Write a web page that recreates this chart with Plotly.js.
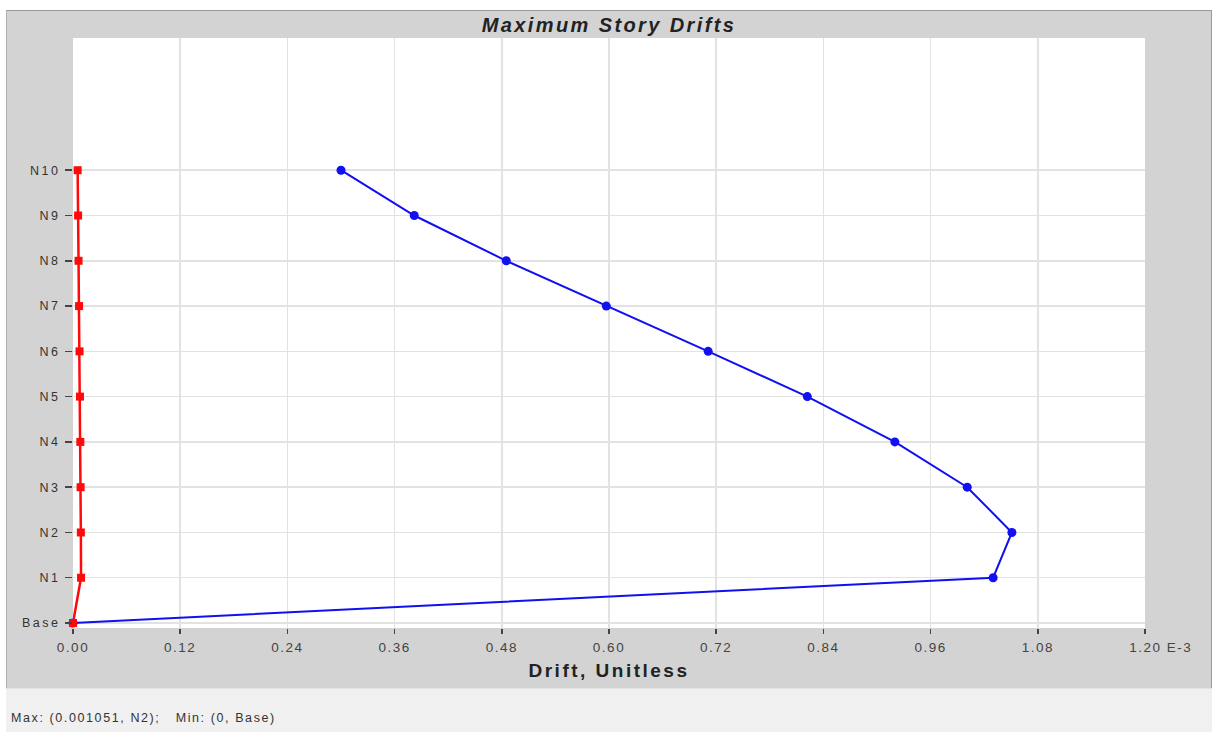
<!DOCTYPE html>
<html>
<head>
<meta charset="utf-8">
<script src="https://cdn.plot.ly/plotly-3.0.1.min.js"></script>
<style>
    body { margin: 0; background: #ffffff; width: 1216px; height: 732px; position: relative; overflow: hidden; }
    #frame { position: absolute; left: 6px; top: 10px; width: 1204px; height: 677px; background: #d3d3d3;
             border-top: 1px solid #9a9a9a; border-left: 1px solid #b0b0b0; border-right: 1px solid #9a9a9a; }
    #drifts { position: absolute; left: 0; top: 0; width: 1204px; height: 677px; }
    #status { position: absolute; left: 6px; top: 688px; width: 1206px; height: 44px; background: #f0f0f0;
              border-top: 1px solid #e2e2e2; font-family: 'Liberation Sans', Arial, sans-serif; font-size: 12.5px;
              letter-spacing: 1.6px; color: #333; }
    #status span { position: absolute; left: 5px; top: 22px; white-space: pre; }
    /* the original picture is stretched sideways, so widen the lettering */
    #drifts .gtitle { letter-spacing: 2.4px; }
    #drifts .xtitle { letter-spacing: 2.5px; }
    #drifts .xtick text { letter-spacing: 1.5px; }
    #drifts .ytick text { letter-spacing: 2.5px; }
</style>
</head>
<body>
<div id="frame"><div id="drifts"></div></div>
<div id="status"><span>Max: (0.001051, N2);   Min: (0, Base)</span></div>
<script>
// story levels, bottom to top
const stories = ['Base', 'N1', 'N2', 'N3', 'N4', 'N5', 'N6', 'N7', 'N8', 'N9', 'N10'];
const levels = [0, 1, 2, 3, 4, 5, 6, 7, 8, 9, 10];

// drift values
const driftX = [0, 0.001030, 0.001051, 0.001001, 0.000920, 0.000822, 0.000711, 0.000597, 0.000485, 0.000382, 0.000300];
const driftY = [0, 0.0000090, 0.0000088, 0.0000085, 0.0000082, 0.0000078, 0.0000073, 0.0000068, 0.0000062, 0.0000057, 0.0000052];

const xTicks = [0, 0.00012, 0.00024, 0.00036, 0.00048, 0.00060, 0.00072, 0.00084, 0.00096, 0.00108, 0.00120];
const xTickText = ['0.00', '0.12', '0.24', '0.36', '0.48', '0.60', '0.72', '0.84', '0.96', '1.08',
    '\u00a0\u00a0\u00a0\u00a0\u00a0\u00a01.20 E-3'];

const font = 'Liberation Sans, Arial, sans-serif';

const blue = {
    x: driftX,
    y: levels,
    mode: 'lines+markers',
    type: 'scatter',
    line: {color: '#1010f0', width: 2},
    marker: {color: '#1010f0', size: 9, symbol: 'circle'},
    cliponaxis: false
};
const red = {
    x: driftY,
    y: levels,
    mode: 'lines+markers',
    type: 'scatter',
    line: {color: '#ff0a0a', width: 2.5},
    marker: {color: '#ff0a0a', size: 8, symbol: 'square'},
    cliponaxis: false
};

const layout = {
    width: 1204,
    height: 677,
    margin: {l: 66, r: 66, t: 27, b: 60},
    paper_bgcolor: '#d3d3d3',
    plot_bgcolor: '#ffffff',
    showlegend: false,
    title: {
        text: '<b><i>Maximum Story Drifts</i></b>',
        font: {family: font, size: 20, color: '#222'},
        x: 0.5,
        xanchor: 'center',
        y: 0.99,
        yanchor: 'top'
    },
    xaxis: {
        range: [0, 0.0012],
        tickvals: xTicks,
        ticktext: xTickText,
        ticks: 'outside',
        ticklen: 5,
        tickcolor: '#444',
        tickwidth: 1.5,
        ticklabelstandoff: 2,
        tickfont: {family: font, size: 13.5, color: '#444'},
        showgrid: true,
        gridcolor: '#e2e2e2',
        gridwidth: 1.5,
        zeroline: false,
        showline: false,
        title: {
            text: '<b>Drift, Unitless</b>',
            font: {family: font, size: 19, color: '#222'},
            standoff: 9
        }
    },
    yaxis: {
        range: [-0.11, 12.92],
        tickvals: levels,
        ticktext: stories,
        ticks: 'outside',
        ticklen: 7,
        tickcolor: '#444',
        tickwidth: 1.5,
        ticklabelstandoff: 2,
        tickfont: {family: font, size: 12.5, color: '#333'},
        showgrid: true,
        gridcolor: '#e2e2e2',
        gridwidth: 1.5,
        zeroline: false,
        showline: false
    }
};

Plotly.newPlot('drifts', [blue, red], layout, {displayModeBar: false, staticPlot: true});
</script>
</body>
</html>
